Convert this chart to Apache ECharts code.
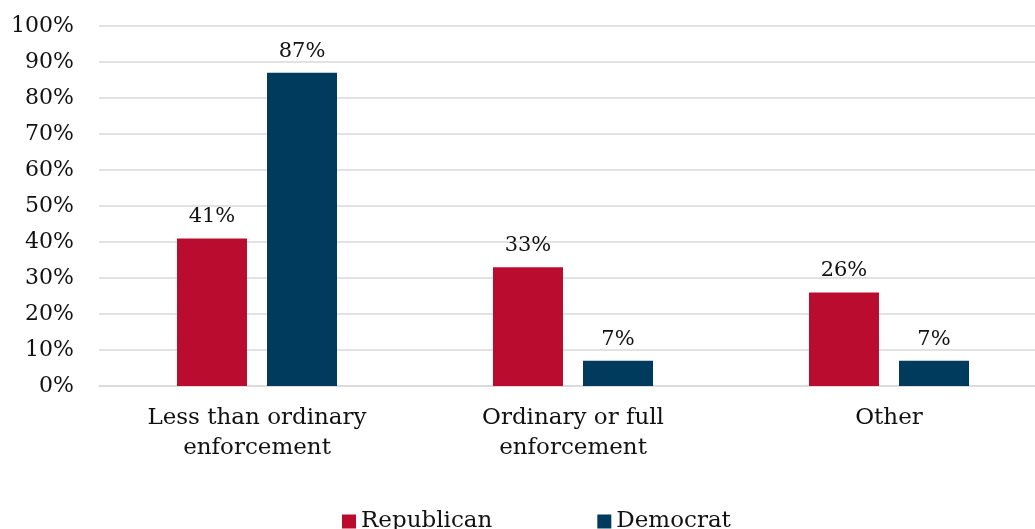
<!DOCTYPE html>
<html>
<head>
<meta charset="utf-8">
<script src="https://cdn.jsdelivr.net/npm/echarts@6/dist/echarts.min.js"></script>
<style>
  html, body { margin: 0; padding: 0; background: #fff; overflow: hidden; }
  #chart { width: 1035px; height: 529px; }
</style>
</head>
<body>
<div id="chart"></div>
<script>
// Views on immigration enforcement, by party
const categories = ['Less than ordinary\nenforcement', 'Ordinary or full\nenforcement', 'Other'];
const republican = [41, 33, 26];
const democrat = [87, 7, 7];
const yTicks = [0, 10, 20, 30, 40, 50, 60, 70, 80, 90, 100];

const FONT = "'DejaVu Serif', serif";
const chart = echarts.init(document.getElementById('chart'));

const barLabel = {
  show: true,
  position: 'top',
  distance: 11,
  formatter: p => p.value + '%',
  color: '#111',
  fontFamily: FONT,
  fontSize: 21
};

chart.setOption({
  animation: false,
  grid: {
    left: 99, top: 26, width: 948, bottom: 143,
    containLabel: false,
    outerBoundsMode: 'none'
  },
  legend: {
    bottom: -4,
    left: 342,
    padding: 0,
    itemWidth: 14,
    itemHeight: 14,
    itemGap: 105,
    icon: 'rect',
    textStyle: { fontFamily: FONT, fontSize: 23, color: '#111' },
    data: ['Republican', 'Democrat']
  },
  xAxis: {
    type: 'category',
    data: categories,
    axisTick: { show: false },
    axisLine: { lineStyle: { color: '#d9d9d9', width: 1.5 } },
    axisLabel: {
      color: '#111',
      fontFamily: FONT,
      fontSize: 23,
      lineHeight: 30,
      margin: 17
    }
  },
  yAxis: {
    type: 'value',
    min: yTicks[0],
    max: yTicks[yTicks.length - 1],
    interval: 10,
    axisLine: { show: false },
    axisTick: { show: false },
    splitLine: { lineStyle: { color: '#d9d9d9', width: 1.5 } },
    axisLabel: {
      formatter: v => v + '%',
      color: '#111',
      fontFamily: FONT,
      fontSize: 22,
      margin: 25
    }
  },
  series: [
    {
      name: 'Republican',
      type: 'bar',
      data: republican,
      barWidth: 70,
      barGap: '28.6%',
      itemStyle: { color: '#BA0C2F' },
      label: barLabel
    },
    {
      name: 'Democrat',
      type: 'bar',
      data: democrat,
      barWidth: 70,
      itemStyle: { color: '#003A5D' },
      label: barLabel
    }
  ]
});
</script>
</body>
</html>
